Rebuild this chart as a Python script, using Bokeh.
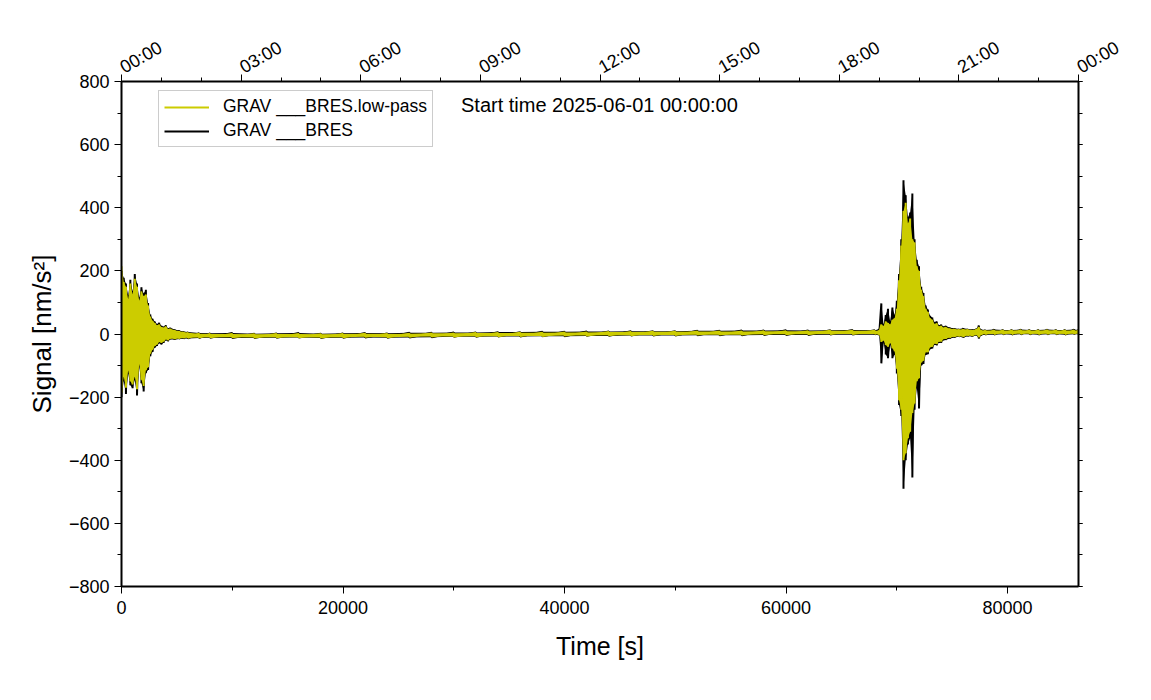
import math
from bokeh.plotting import figure
from bokeh.models import (LinearAxis, FixedTicker, Range1d, Legend, LegendItem, Label)
from bokeh.embed import file_html
from bokeh.resources import INLINE

# ---------------- data ----------------
# times in seconds since 2025-06-01 00:00:00; per-bin max / min of each trace
ev1_t = [0, 200, 400, 600, 800, 1000, 1200, 1400, 1600, 1800, 2000, 2200, 2400, 2600,
         2800, 3000, 3200, 3400, 3600, 3800, 4000, 4200, 4400, 4800, 5200, 5600, 6000, 7000]
ev1_black_hi = [200, 178, 160, 122, 172, 135, 190, 160, 115, 148, 128, 140, 98, 62,
                48, 40, 32, 36, 26, 23, 28, 18, 20, 14, 11, 8, 6, 3]
ev1_black_lo = [-200, -148, -190, -125, -162, -172, -146, -195, -104, -156, -182, -124, -114, -70,
                -57, -43, -38, -29, -33, -28, -20, -23, -17, -18, -16, -15, -14, -13]
ev1_low_hi = [215, 165, 150, 110, 160, 125, 175, 150, 105, 135, 120, 125, 90, 55,
              42, 35, 28, 30, 22, 20, 24, 16, 17, 12, 9, 6, 4, 1]
ev1_low_lo = [-185, -135, -170, -115, -150, -160, -135, -175, -95, -145, -165, -115, -105, -62,
              -50, -38, -33, -25, -28, -24, -17, -20, -14, -16, -14, -13, -12, -11]

quiet_t = [8000, 10000, 12000, 14000, 16000, 18000, 20000, 22000, 24000, 26000,
           28000, 30000, 32000, 34000, 36000, 38000, 40000, 42000, 44000, 46000,
           48000, 50000, 52000, 54000, 56000, 58000, 60000, 62000, 64000, 66000, 68000]
quiet_black_hi = [2, 3, 1, 2, 3, 1, 2, 3, 2, 4, 4, 5, 5, 6, 6, 7, 7, 8, 8, 9,
                  9, 9, 10, 10, 11, 11, 12, 11, 12, 13, 12]
quiet_black_lo = [-12, -13, -13, -12, -11, -13, -12, -11, -12, -11, -10, -9, -9, -8, -8, -7,
                  -7, -6, -6, -5, -5, -5, -4, -4, -4, -3, -3, -3, -2, -2, -2]
quiet_low_hi = [0, 0, -1, 0, 0, -1, 0, 1, 0, 1, 2, 2, 3, 3, 4, 4, 5, 5, 6, 6,
                7, 7, 8, 8, 8, 9, 9, 9, 10, 10, 10]
quiet_low_lo = [-10, -10, -11, -10, -10, -11, -10, -9, -10, -9, -8, -8, -7, -7, -6, -6,
                -5, -5, -4, -4, -3, -3, -2, -2, -2, -1, -1, -1, 0, 0, 0]

ev2_t = [68400, 68600, 68800, 69000, 69200, 69400, 69600, 69800, 70000, 70200, 70400,
         70600, 70800, 71000, 71200, 71400, 71600, 71800, 72000, 72200, 72400, 72600,
         72800, 73000, 73200, 73400, 73600, 73800, 74000, 74200, 74400]
ev2_black_hi = [15, 97, 30, 60, 80, 40, 84, 60, 105, 190, 300, 487, 440, 370, 385, 445,
                300, 235, 215, 150, 130, 90, 78, 58, 52, 38, 40, 28, 30, 24, 26]
ev2_black_lo = [-4, -93, -26, -65, -77, -34, -77, -65, -125, -225, -260, -490, -400, -350,
                -330, -455, -240, -170, -236, -100, -95, -66, -64, -48, -46, -34, -36,
                -28, -28, -20, -19]
ev2_low_hi = [10, 30, 25, 40, 35, 30, 45, 50, 80, 170, 280, 390, 416, 350, 366, 300,
              290, 215, 200, 140, 120, 80, 70, 50, 45, 32, 34, 24, 26, 20, 22]
ev2_low_lo = [-2, -25, -20, -35, -40, -28, -45, -55, -110, -210, -240, -400, -378, -330,
              -310, -250, -220, -150, -140, -90, -85, -58, -58, -42, -40, -30, -32, -24,
              -24, -16, -15]

tail_t = [74800, 75200, 75600, 76000, 76400, 76800, 77200, 77400, 77600, 78000,
          78800, 79600, 80400, 81200, 82000, 82800, 83600, 84400, 85200, 86000, 86400]
tail_black_hi = [20, 18, 16, 18, 16, 14, 17, 27, 14, 13, 14, 13, 13, 14, 13, 13, 14, 13, 13, 14, 13]
tail_black_lo = [-14, -11, -9, -11, -7, -8, -5, -14, -4, -2, -2, -1, -2, -1, -1, -2, -1, -1, -2, -1, -1]
tail_low_hi = [17, 16, 14, 15, 14, 12, 15, 22, 12, 11, 11, 11, 11, 12, 11, 11, 12, 11, 11, 11, 11]
tail_low_lo = [-11, -9, -7, -9, -5, -6, -3, -10, -2, 0, 0, 1, 0, 1, 1, 0, 1, 1, 0, 1, 1]

top_ticks = [0, 10800, 21600, 32400, 43200, 54000, 64800, 75600, 86400]
top_labels = ["00:00", "03:00", "06:00", "09:00", "12:00", "15:00", "18:00", "21:00", "00:00"]
x_ticks = [0, 20000, 40000, 60000, 80000]
y_ticks = [-800, -600, -400, -200, 0, 200, 400, 600, 800]

label_low = "GRAV ___BRES.low-pass"
label_raw = "GRAV ___BRES"
start_text = "Start time 2025-06-01 00:00:00"

# ---------------- assemble ----------------
t = ev1_t + quiet_t + ev2_t + tail_t
black_hi = ev1_black_hi + quiet_black_hi + ev2_black_hi + tail_black_hi
black_lo = ev1_black_lo + quiet_black_lo + ev2_black_lo + tail_black_lo
low_hi = ev1_low_hi + quiet_low_hi + ev2_low_hi + tail_low_hi
low_lo = ev1_low_lo + quiet_low_lo + ev2_low_lo + tail_low_lo


def zigzag(ts, hi, lo):
    xs, ys = [], []
    for a, b, c in zip(ts, hi, lo):
        xs += [a, a]
        ys += [b, c]
    return xs, ys


FONT = "Liberation Sans"
YEL = "#cccc00"

p = figure(width=1135, height=680, x_range=Range1d(0, 86400), y_range=Range1d(-800, 800),
           output_backend="svg", toolbar_location=None,
           min_border_left=121, min_border_top=81, min_border_right=57, min_border_bottom=94,
           x_axis_label="Time [s]", y_axis_label="Signal [nm/s\u00b2]")
p.xgrid.visible = False
p.ygrid.visible = False
p.outline_line_color = None
p.background_fill_color = "white"
p.border_fill_color = "white"

p.varea(x=t, y1=black_lo, y2=black_hi, fill_color="black")
bx, by = zigzag(t, black_hi, black_lo)
r_black = p.line(bx, by, line_color="black", line_width=2)
p.varea(x=t, y1=low_lo, y2=low_hi, fill_color=YEL)
yx, yy = zigzag(t, low_hi, low_lo)
r_low = p.line(yx, yy, line_color=YEL, line_width=2)


def style_axis(ax, fontsize="18px"):
    ax.axis_line_width = 2
    ax.axis_line_color = "black"
    ax.major_tick_line_color = "black"
    ax.minor_tick_line_color = "black"
    ax.major_tick_line_width = 1
    ax.minor_tick_line_width = 1
    ax.major_tick_out = 7
    ax.major_tick_in = 0
    ax.minor_tick_out = 4
    ax.minor_tick_in = 0
    ax.major_label_text_font = FONT
    ax.major_label_text_font_size = fontsize
    ax.major_label_text_color = "black"
    ax.axis_label_text_font = FONT
    ax.axis_label_text_font_size = "25px"
    ax.axis_label_text_font_style = "normal"
    ax.axis_label_text_color = "black"


xa = p.xaxis[0]
xa.ticker = FixedTicker(ticks=x_ticks, minor_ticks=[v * 10000 for v in range(9)])
style_axis(xa)
xa.major_label_standoff = 7
xa.axis_label_standoff = 15

ya = p.yaxis[0]
ya.ticker = FixedTicker(ticks=y_ticks, minor_ticks=list(range(-800, 801, 100)))
style_axis(ya)
ya.axis_label_text_font_size = "26px"
ya.major_label_standoff = 5
ya.axis_label_standoff = 9

top = LinearAxis(ticker=FixedTicker(ticks=top_ticks, minor_ticks=list(range(0, 86401, 3600))),
                 major_label_overrides={k: v for k, v in zip(top_ticks, top_labels)},
                 major_label_orientation=math.pi / 6)
style_axis(top)
top.major_label_standoff = 6
p.add_layout(top, "above")

right = LinearAxis(ticker=FixedTicker(ticks=y_ticks, minor_ticks=list(range(-800, 801, 100))),
                   major_label_overrides={k: "" for k in y_ticks})
style_axis(right)
right.major_tick_out = 4
p.add_layout(right, "right")

legend = Legend(items=[LegendItem(label=label_low, renderers=[r_low]),
                       LegendItem(label=label_raw, renderers=[r_black])],
                location=(37, 439), glyph_width=45, glyph_height=20, label_standoff=14,
                padding=5, spacing=3, label_height=20, margin=0,
                label_text_font=FONT, label_text_font_size="17.5px", label_text_color="black",
                border_line_color="#999999", border_line_width=1,
                background_fill_color="white", background_fill_alpha=1)
p.add_layout(legend)

p.add_layout(Label(x=30650, y=727, text=start_text, text_font=FONT, text_font_size="20px",
                   text_baseline="middle", text_color="black"))

open("out.html", "w").write(file_html(p, INLINE))
